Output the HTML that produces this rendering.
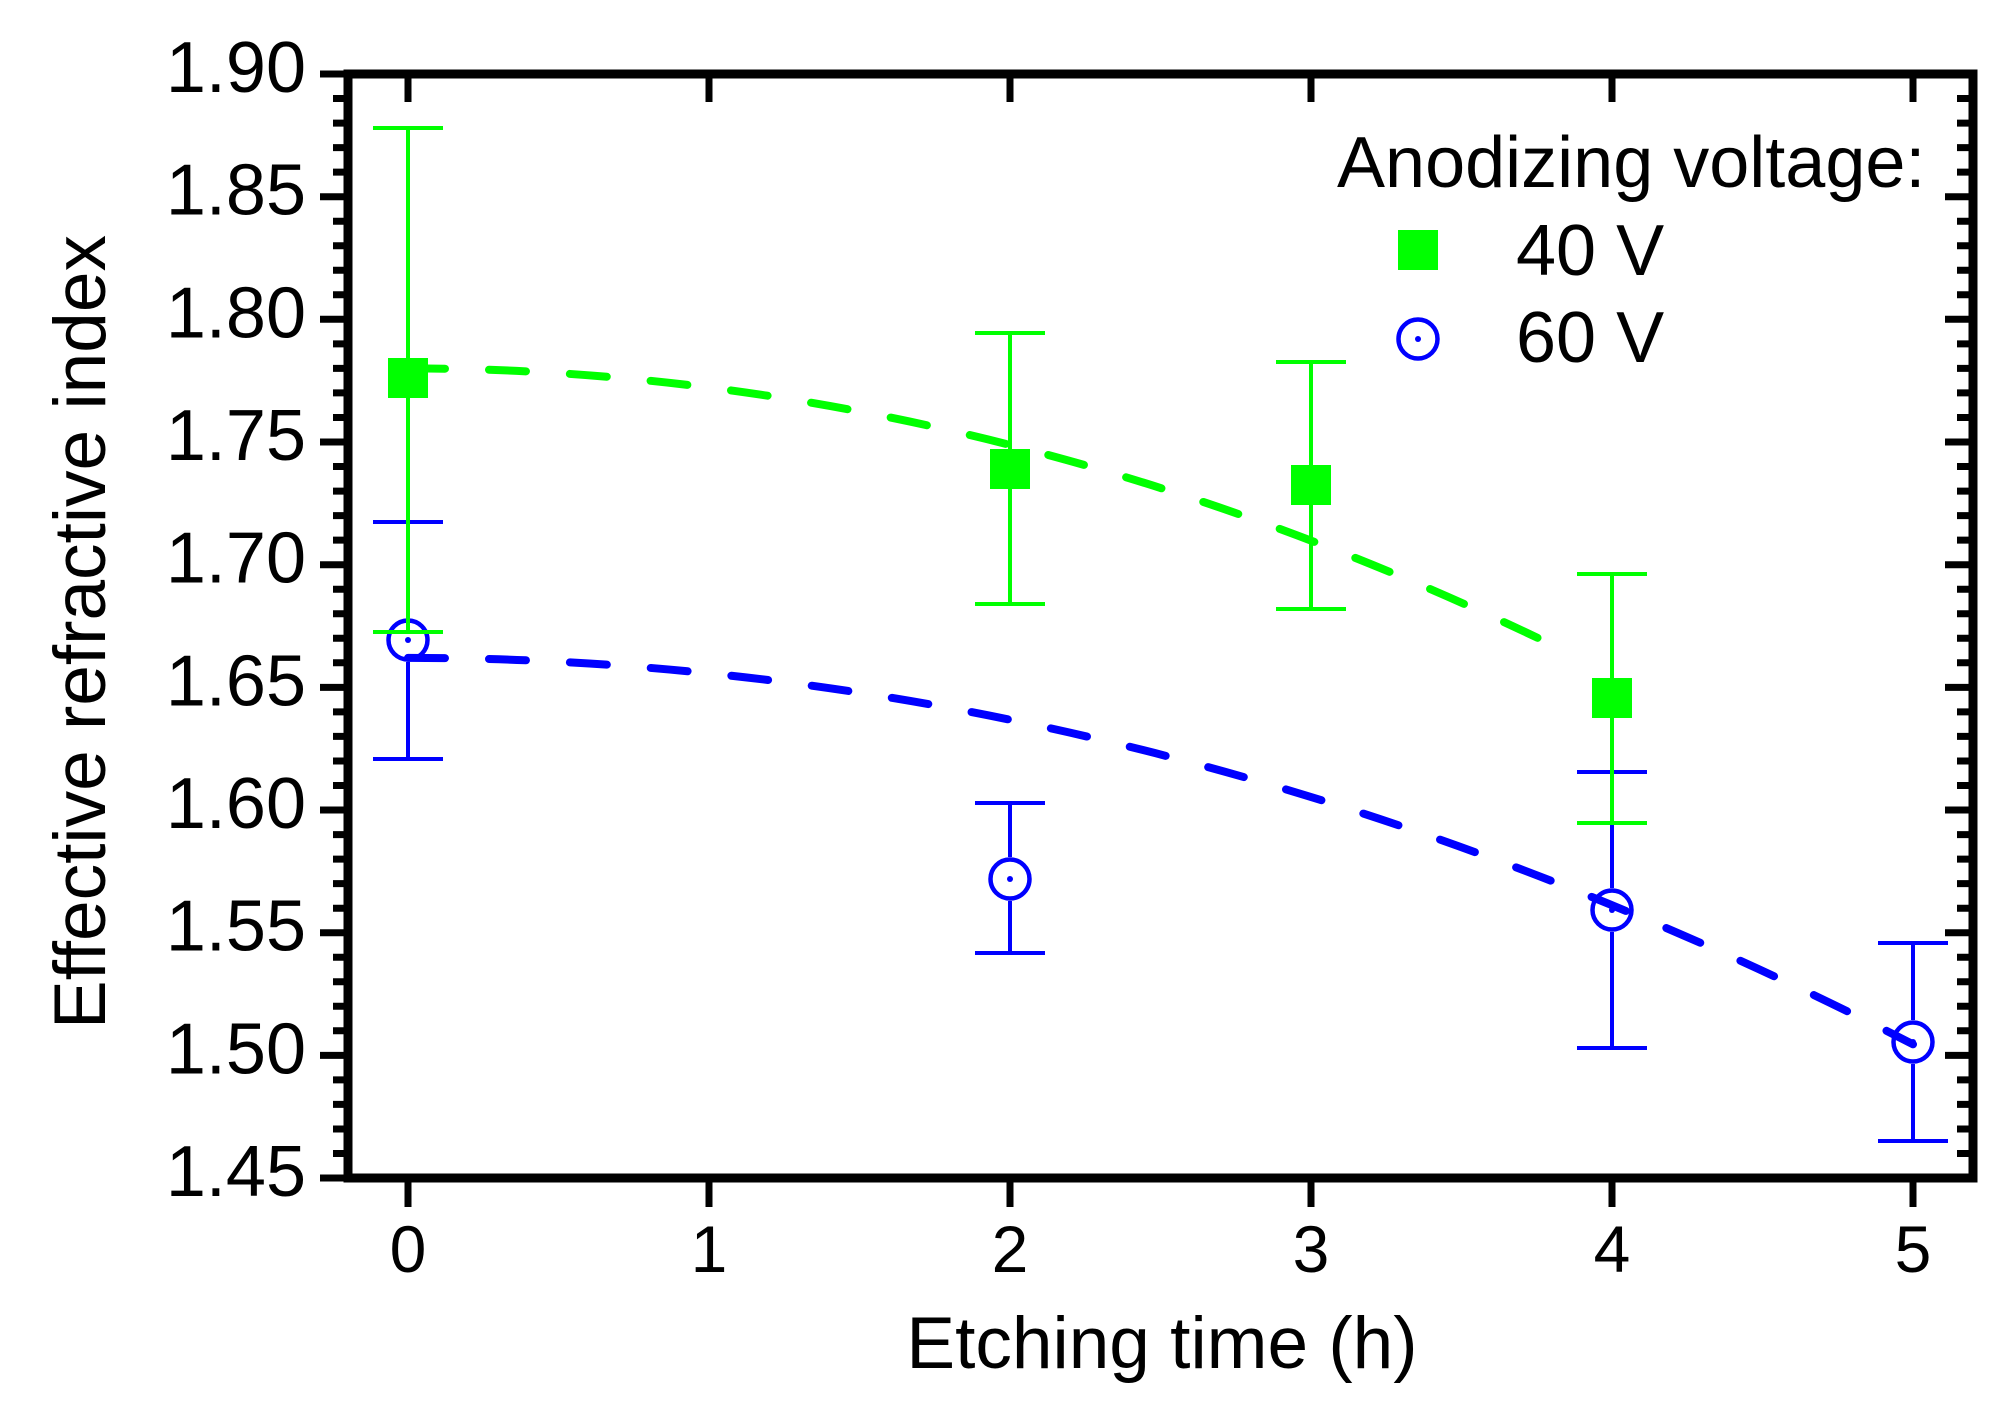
<!DOCTYPE html>
<html>
<head>
<meta charset="utf-8">
<style>
html,body{margin:0;padding:0;background:#fff;}
svg{display:block;}
text{font-family:"Liberation Sans",Arial,sans-serif;fill:#000;}
</style>
</head>
<body>
<svg width="2014" height="1424" viewBox="0 0 2014 1424" xmlns="http://www.w3.org/2000/svg">
<rect x="0" y="0" width="2014" height="1424" fill="#fff"/>

<!-- Fit curves -->
<path d="M408,657.9 Q1160.5,657.9 1913,1044.3" fill="none" stroke="#0000ff" stroke-width="8" stroke-dasharray="37 44" stroke-linecap="round"/>
<path d="M408,368.4 Q973.9,368.4 1539.8,638.9" fill="none" stroke="#00ff00" stroke-width="8" stroke-dasharray="37 44" stroke-linecap="round"/>

<!-- Blue error bars -->
<g stroke="#0000ff" stroke-width="4" fill="none">
<path d="M373,522H443 M408,522V618 M408,662V759 M373,759H443"/>
<path d="M975,803H1045 M1010,803V857 M1010,901V953 M975,953H1045"/>
<path d="M1577,772H1647 M1612,772V888 M1612,932V1048 M1577,1048H1647"/>
<path d="M1878,943H1948 M1913,943V1020 M1913,1064V1141 M1878,1141H1948"/>
</g>
<!-- Blue circles -->
<g stroke="#0000ff" stroke-width="4.5" fill="none">
<circle cx="408" cy="640" r="19.5"/>
<circle cx="1010" cy="879" r="19.5"/>
<circle cx="1612" cy="910" r="19.5"/>
<circle cx="1913" cy="1042" r="19.5"/>
</g>
<g fill="#0000ff">
<circle cx="408" cy="640" r="3"/>
<circle cx="1010" cy="879" r="3"/>
<circle cx="1612" cy="910" r="3"/>
<circle cx="1913" cy="1042" r="3"/>
</g>

<!-- Green error bars -->
<g stroke="#00ff00" stroke-width="4" fill="none">
<path d="M373,128H443 M408,128V632 M373,632H443"/>
<path d="M975,333H1045 M1010,333V604 M975,604H1045"/>
<path d="M1276,362H1346 M1311,362V609 M1276,609H1346"/>
<path d="M1577,574H1647 M1612,574V823 M1577,823H1647"/>
</g>
<!-- Green squares -->
<g fill="#00ff00">
<rect x="388" y="358" width="40" height="40"/>
<rect x="990" y="449" width="40" height="40"/>
<rect x="1291" y="465" width="40" height="40"/>
<rect x="1592" y="678" width="40" height="40"/>
</g>

<!-- Axes frame -->
<rect x="348" y="74" width="1625" height="1104" fill="none" stroke="#000" stroke-width="9"/>

<!-- Ticks -->
<g stroke="#000" stroke-width="7" fill="none">
<!-- left major (outward) -->
<path d="M320,74H348 M320,196.7H348 M320,319.3H348 M320,442H348 M320,564.7H348 M320,687.4H348 M320,810H348 M320,932.7H348 M320,1055.4H348 M320,1178H348"/>
<!-- right major (inward) -->
<path d="M1945,74H1973 M1945,196.7H1973 M1945,319.3H1973 M1945,442H1973 M1945,564.7H1973 M1945,687.4H1973 M1945,810H1973 M1945,932.7H1973 M1945,1055.4H1973 M1945,1178H1973"/>
<!-- left minor -->
<path d="M333,98.5H348 M333,123.1H348 M333,147.6H348 M333,172.1H348 M333,221.2H348 M333,245.7H348 M333,270.3H348 M333,294.8H348 M333,343.9H348 M333,368.4H348 M333,392.9H348 M333,417.5H348 M333,466.5H348 M333,491.1H348 M333,515.6H348 M333,540.1H348 M333,589.2H348 M333,613.7H348 M333,638.3H348 M333,662.8H348 M333,711.9H348 M333,736.4H348 M333,761H348 M333,785.5H348 M333,834.6H348 M333,859.1H348 M333,883.6H348 M333,908.2H348 M333,957.2H348 M333,981.8H348 M333,1006.3H348 M333,1030.8H348 M333,1079.9H348 M333,1104.4H348 M333,1129H348 M333,1153.5H348"/>
<!-- right minor -->
<path d="M1957,98.5H1973 M1957,123.1H1973 M1957,147.6H1973 M1957,172.1H1973 M1957,221.2H1973 M1957,245.7H1973 M1957,270.3H1973 M1957,294.8H1973 M1957,343.9H1973 M1957,368.4H1973 M1957,392.9H1973 M1957,417.5H1973 M1957,466.5H1973 M1957,491.1H1973 M1957,515.6H1973 M1957,540.1H1973 M1957,589.2H1973 M1957,613.7H1973 M1957,638.3H1973 M1957,662.8H1973 M1957,711.9H1973 M1957,736.4H1973 M1957,761H1973 M1957,785.5H1973 M1957,834.6H1973 M1957,859.1H1973 M1957,883.6H1973 M1957,908.2H1973 M1957,957.2H1973 M1957,981.8H1973 M1957,1006.3H1973 M1957,1030.8H1973 M1957,1079.9H1973 M1957,1104.4H1973 M1957,1129H1973 M1957,1153.5H1973"/>
<!-- top major (inward) -->
<path d="M408,74V102 M709,74V102 M1010,74V102 M1311,74V102 M1612,74V102 M1913,74V102"/>
<!-- bottom major (outward) -->
<path d="M408,1178V1207 M709,1178V1207 M1010,1178V1207 M1311,1178V1207 M1612,1178V1207 M1913,1178V1207"/>
</g>

<!-- Y tick labels -->
<g font-size="72" text-anchor="end">
<text x="306" y="92">1.90</text>
<text x="306" y="214.7">1.85</text>
<text x="306" y="337.3">1.80</text>
<text x="306" y="460">1.75</text>
<text x="306" y="582.7">1.70</text>
<text x="306" y="705.4">1.65</text>
<text x="306" y="828">1.60</text>
<text x="306" y="950.7">1.55</text>
<text x="306" y="1073.4">1.50</text>
<text x="306" y="1196">1.45</text>
</g>

<!-- X tick labels -->
<g font-size="66" text-anchor="middle">
<text x="408" y="1272">0</text>
<text x="709" y="1272">1</text>
<text x="1010" y="1272">2</text>
<text x="1311" y="1272">3</text>
<text x="1612" y="1272">4</text>
<text x="1913" y="1272">5</text>
</g>

<!-- Axis titles -->
<text x="1162" y="1368" font-size="73" text-anchor="middle">Etching time (h)</text>
<text transform="translate(105,632) rotate(-90)" font-size="73" text-anchor="middle">Effective refractive index</text>

<!-- Legend -->
<text x="1337" y="187" font-size="72">Anodizing voltage:</text>
<rect x="1398" y="230" width="40" height="40" fill="#00ff00"/>
<text x="1516" y="275" font-size="72">40 V</text>
<circle cx="1418" cy="339" r="19.5" fill="none" stroke="#0000ff" stroke-width="4.5"/>
<circle cx="1418" cy="339" r="3" fill="#0000ff"/>
<text x="1516" y="362" font-size="72">60 V</text>
</svg>
</body>
</html>
